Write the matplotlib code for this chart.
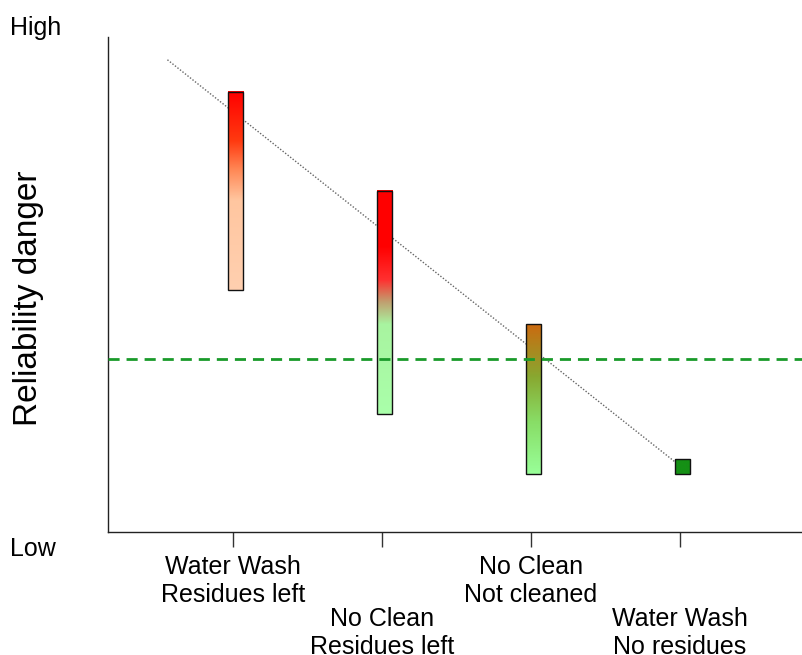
import numpy as np
import matplotlib
matplotlib.use("Agg")
import matplotlib.pyplot as plt
from matplotlib.colors import LinearSegmentedColormap

plt.rcParams['font.family'] = ['Liberation Sans', 'DejaVu Sans']

# ---- data ----
categories = ["Water Wash\nResidues left", "No Clean\nResidues left",
              "No Clean\nNot cleaned", "Water Wash\nNo residues"]
positions = [1, 2, 3, 4]
bar_low = [48.9, 23.8, 11.7, 11.7]
bar_high = [88.9, 68.9, 42.0, 14.7]
threshold = 34.9
trend_x = [0.56, 3.97]
trend_y = [95.4, 14.1]

# gradient stops (bottom -> top)
grad_stops = [
    [(0.0, "#ffd0b0"), (0.45, "#ffc6a0"), (0.60, "#ff8a58"), (0.75, "#ff3a10"), (1.0, "#ff0000")],
    [(0.0, "#aaffaa"), (0.40, "#a8f4a0"), (0.50, "#c0a070"), (0.60, "#ff3030"), (0.75, "#ff0000"), (1.0, "#ff0000")],
    [(0.0, "#99ff99"), (0.35, "#88dd66"), (0.65, "#88a830"), (1.0, "#cc6a10")],
    [(0.0, "#159015"), (1.0, "#159015")],
]

fig = plt.figure(figsize=(8.02, 6.55), dpi=100)
ax = fig.add_axes([108/802, (655-532)/655, 1-108/802, (532-37)/655])

# trend line (behind bars)
ax.plot(trend_x, trend_y, color="#666666", linestyle=(0, (1, 1.3)), linewidth=1.0, zorder=1)

bw = 0.102
shift = 0.018
grad = np.linspace(0, 1, 256).reshape(-1, 1)
for x, lo, hi, stops in zip(positions, bar_low, bar_high, grad_stops):
    cmap = LinearSegmentedColormap.from_list("g", stops)
    xc = x + shift
    ax.imshow(grad, cmap=cmap, origin="lower", aspect="auto",
              extent=(xc - bw/2, xc + bw/2, lo, hi), zorder=2, interpolation="bilinear")
    ax.add_patch(plt.Rectangle((xc - bw/2, lo), bw, hi - lo, fill=False,
                               edgecolor="#111111", linewidth=1.0, zorder=3))

ax.axhline(threshold, color="#1a9a2a", linestyle=(0, (4, 2.5)), linewidth=2, zorder=4)

ax.set_xlim(0.161, 4.82)
ax.set_ylim(0, 100)

for s in ["top", "right"]:
    ax.spines[s].set_visible(False)
for s in ["left", "bottom"]:
    ax.spines[s].set_color("#222222")
    ax.spines[s].set_linewidth(1.0)

ax.set_yticks([])
ax.set_xticks(positions)
ax.set_xticklabels([])
ax.tick_params(axis="x", length=10.5, width=1, color="#333333", direction="out")

for i, (x, lab) in enumerate(zip(positions, categories)):
    off = -16.5 if i % 2 == 0 else -53.8
    ax.annotate(lab, xy=(x, 0), xycoords="data", xytext=(0, off),
                textcoords="offset points", ha="center", va="top",
                fontsize=18, linespacing=1.2, annotation_clip=False)

fig.text(10/802, 1 - 28/655, "High", fontsize=18, ha="left", va="center")
fig.text(10/802, 1 - 549/655, "Low", fontsize=18, ha="left", va="center")
fig.text(29/802, 1 - 298/655, "Reliability danger", fontsize=24, rotation=90,
         ha="center", va="center")

fig.savefig("out.png", dpi=100)
